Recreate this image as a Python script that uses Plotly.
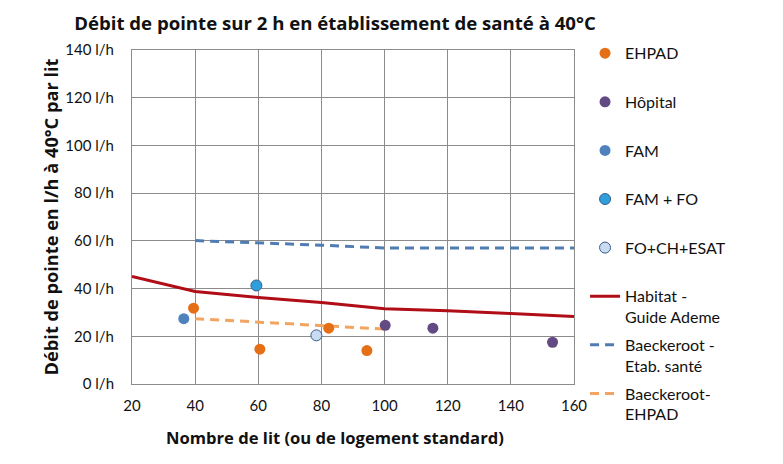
import plotly.graph_objects as go

# Scatter data (x = nombre de lits, y = l/h par lit)
ehpad_x = [39.5, 60.5, 82.3, 94.4]
ehpad_y = [31.8, 14.6, 23.4, 14.0]
hopital_x = [100.2, 115.3, 153.2]
hopital_y = [24.6, 23.4, 17.5]
fam_x = [36.4]
fam_y = [27.4]
famfo_x = [59.4]
famfo_y = [41.3]
foch_x = [78.4]
foch_y = [20.4]

# Reference curves
habitat_x = [20, 40, 60, 80, 100, 120, 140, 160]
habitat_y = [45.1, 38.8, 36.3, 34.2, 31.5, 30.7, 29.5, 28.3]
baeck_sante_x = [40, 60, 80, 100, 120, 140, 160]
baeck_sante_y = [60.1, 59.2, 58.2, 57.0, 57.0, 57.0, 57.0]
baeck_ehpad_x = [40, 60, 80, 100]
baeck_ehpad_y = [27.4, 26.0, 24.5, 23.0]

x_ticks = [20, 40, 60, 80, 100, 120, 140, 160]
y_ticks = [0, 20, 40, 60, 80, 100, 120, 140]
y_ticktext = [f"{v} l/h" for v in y_ticks]

FONT = "Lato"
TFONT = "Open Sans"
fig = go.Figure()

fig.add_trace(go.Scatter(x=habitat_x, y=habitat_y, mode="lines", name="Habitat -<br>Guide Ademe",
                         line=dict(color="#B00D17", width=3), legendrank=6, legendgroup="g6"))
fig.add_trace(go.Scatter(x=baeck_sante_x, y=baeck_sante_y, mode="lines", name="Baeckeroot -<br>Etab. santé",
                         line=dict(color="#4F7DB3", width=3, dash="9px,6px"), legendrank=7, legendgroup="g7"))
fig.add_trace(go.Scatter(x=baeck_ehpad_x, y=baeck_ehpad_y, mode="lines", name="Baeckeroot-<br>EHPAD",
                         line=dict(color="#F2A461", width=3, dash="9px,6px"), legendrank=8, legendgroup="g8"))

mk = 11
fig.add_trace(go.Scatter(x=ehpad_x, y=ehpad_y, mode="markers", name="EHPAD<br> ",
                         marker=dict(color="#E56F17", size=mk, line=dict(width=0)), legendrank=1, legendgroup="g1"))
fig.add_trace(go.Scatter(x=hopital_x, y=hopital_y, mode="markers", name="Hôpital<br> ",
                         marker=dict(color="#644A83", size=mk, line=dict(width=0)), legendrank=2, legendgroup="g2"))
fig.add_trace(go.Scatter(x=fam_x, y=fam_y, mode="markers", name="FAM<br> ",
                         marker=dict(color="#4F81BD", size=mk, line=dict(width=0)), legendrank=3, legendgroup="g3"))
fig.add_trace(go.Scatter(x=famfo_x, y=famfo_y, mode="markers", name="FAM + FO<br> ",
                         marker=dict(color="#2E9FDA", size=mk, line=dict(width=1, color="#385D8A")), legendrank=4, legendgroup="g4"))
fig.add_trace(go.Scatter(x=foch_x, y=foch_y, mode="markers", name="FO+CH+ESAT<br> ",
                         marker=dict(color="#C9DBF0", size=mk, line=dict(width=1, color="#385D8A")), legendrank=5, legendgroup="g5"))

axis_common = dict(showgrid=True, gridcolor="#8C8C8C", gridwidth=1, showline=True, linecolor="#8C8C8C",
                   linewidth=1, mirror=True, zeroline=False, ticks="",
                   tickfont=dict(family=FONT, size=15, color="#111"))

fig.update_layout(
    width=783, height=464,
    margin=dict(l=132, r=209, t=50, b=80),
    paper_bgcolor="white", plot_bgcolor="white",
    font=dict(family=FONT, color="#111"),
    title=dict(text="<b>Débit de pointe sur 2 h en établissement de santé à 40°C</b>",
               x=335 / 783, xanchor="center", y=1 - 23 / 464, yanchor="middle",
               font=dict(family=TFONT, size=18.6, color="#111")),
    xaxis=dict(range=[20, 160], tickvals=x_ticks, ticklabelstandoff=8, **axis_common),
    yaxis=dict(range=[0, 140], tickvals=y_ticks, ticktext=y_ticktext, ticklabelstandoff=14,
               title=dict(text="<b>Débit de pointe en l/h à 40°C par lit</b>", standoff=1,
                          font=dict(family=TFONT, size=18.2, color="#111")),
               **axis_common),
    legend=dict(x=1.025, xanchor="left", y=1.041, yanchor="top", valign="top",
                font=dict(family=FONT, size=16, color="#111"), tracegroupgap=4,
                bgcolor="rgba(0,0,0,0)", maxheight=460),
    showlegend=True,
    annotations=[dict(text="<b>Nombre de lit (ou de logement standard)</b>",
                      xref="paper", yref="paper", x=(335 - 132) / 442, y=(384 - 437) / 334,
                      xanchor="center", yanchor="middle", showarrow=False,
                      font=dict(family=TFONT, size=16.6, color="#111"))],
)

fig.write_html("out.html")
